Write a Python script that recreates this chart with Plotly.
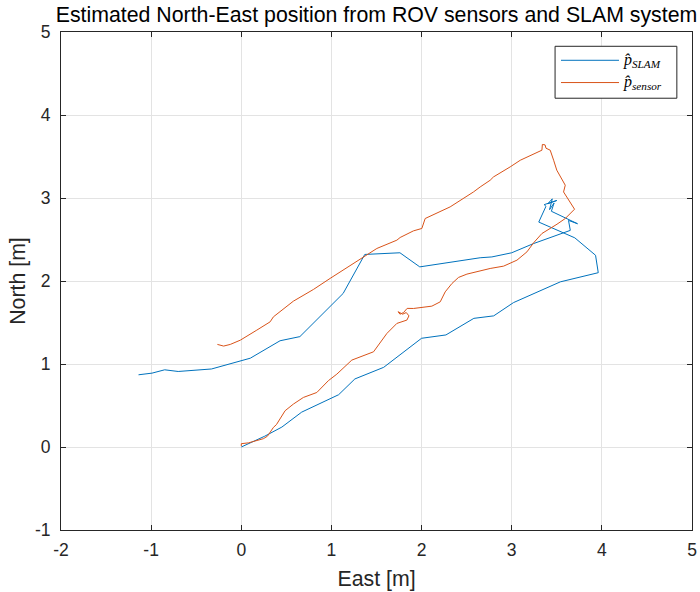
import plotly.graph_objects as go

# SLAM estimate (East, North) in metres
slam_east = [0.00, 0.26, 0.45, 0.67, 1.08, 1.26, 1.58, 2.00, 2.27, 2.43, 2.58, 2.80, 3.02, 3.54, 3.96,
             3.93, 3.70, 3.30, 3.38, 3.36, 3.50, 3.40, 3.45, 3.42, 3.47, 3.44, 3.73, 3.63, 3.65,
             3.24, 3.00, 2.78, 2.65, 1.98, 1.76, 1.37, 1.13, 0.65, 0.43, 0.10, -0.33, -0.70,
             -0.85, -0.99, -1.14]
slam_north = [0.00, 0.13, 0.24, 0.42, 0.63, 0.82, 0.96, 1.31, 1.35, 1.45, 1.55, 1.58, 1.74, 1.99, 2.10,
              2.31, 2.52, 2.71, 2.90, 2.92, 2.97, 2.93, 2.99, 2.86, 2.94, 2.84, 2.69, 2.73, 2.61,
              2.45, 2.34, 2.29, 2.28, 2.17, 2.34, 2.32, 1.85, 1.33, 1.28, 1.07, 0.94, 0.91,
              0.93, 0.89, 0.87]

# Sensor estimate (East, North) in metres
sensor_east = [0.00, 0.00, 0.08, 0.18, 0.245, 0.29, 0.32, 0.357, 0.39, 0.431, 0.486, 0.578, 0.689,
               0.838, 0.967, 1.06, 1.226, 1.467, 1.615, 1.726, 1.837, 1.86, 1.83, 1.79, 1.74, 1.76,
               1.80, 1.84, 1.91, 2.114, 2.207, 2.262, 2.337, 2.41, 2.503, 2.761, 2.91, 3.058, 3.169,
               3.242, 3.335, 3.502, 3.594, 3.697, 3.63, 3.575, 3.594, 3.538, 3.50, 3.465, 3.427,
               3.38, 3.37, 3.34, 3.34, 3.335, 3.095, 2.983, 2.798, 2.761, 2.65, 2.576, 2.317, 2.04,
               2.003, 1.91, 1.762, 1.726, 1.504, 1.355, 1.133, 0.985, 0.80, 0.578, 0.356, 0.32,
               0.172, -0.011, -0.122, -0.196, -0.265]
sensor_north = [0.01, 0.04, 0.05, 0.08, 0.10, 0.13, 0.18, 0.237, 0.27, 0.337, 0.437, 0.517, 0.597,
                0.657, 0.80, 0.878, 1.047, 1.147, 1.368, 1.489, 1.529, 1.58, 1.62, 1.60, 1.63, 1.60,
                1.62, 1.67, 1.669, 1.697, 1.749, 1.869, 1.97, 2.043, 2.083, 2.151, 2.179, 2.251, 2.351,
                2.459, 2.572, 2.684, 2.753, 2.865, 2.973, 3.073, 3.154, 3.254, 3.335, 3.455, 3.576,
                3.60, 3.64, 3.645, 3.61, 3.576, 3.455, 3.375, 3.254, 3.214, 3.133, 3.073, 2.893, 2.753,
                2.633, 2.604, 2.524, 2.492, 2.392, 2.291, 2.131, 2.031, 1.898, 1.757, 1.568, 1.508,
                1.408, 1.287, 1.236, 1.216, 1.236]

x_ticks = [-2, -1, 0, 1, 2, 3, 4, 5]
y_ticks = [-1, 0, 1, 2, 3, 4, 5]

series_names = ["<i>p̂</i><sub><i>SLAM</i></sub>", "<i>p̂</i><sub><i>sensor</i></sub>"]
series_colors = ["#0072BD", "#D95319"]

SANS = "Liberation Sans, Arial, Helvetica"
SERIF = "Liberation Serif, DejaVu Serif, serif"

fig = go.Figure()
fig.add_trace(go.Scatter(x=slam_east, y=slam_north, mode="lines",
                         line=dict(color=series_colors[0], width=1),
                         name=series_names[0], showlegend=False))
fig.add_trace(go.Scatter(x=sensor_east, y=sensor_north, mode="lines",
                         line=dict(color=series_colors[1], width=1),
                         name=series_names[1], showlegend=False))

# Legend box drawn in paper coordinates (MATLAB-style long line samples)
fig.add_shape(type="rect", xref="paper", yref="paper",
              x0=0.783, x1=0.976, y0=0.867, y1=0.9713,
              line=dict(color="#262626", width=1), fillcolor="white", layer="above")
legend_rows_y = [0.9432, 0.8985]
for name, color, yy in zip(series_names, series_colors, legend_rows_y):
    fig.add_shape(type="line", xref="paper", yref="paper",
                  x0=0.7924, x1=0.8843, y0=yy, y1=yy,
                  line=dict(color=color, width=1), layer="above")
    fig.add_annotation(xref="paper", yref="paper", x=0.8875, y=yy,
                       xanchor="left", yanchor="middle", showarrow=False,
                       text=name, font=dict(family=SERIF, size=16, color="#000000"))

axis_common = dict(showline=True, mirror="ticks", linecolor="#262626", linewidth=1,
                   ticks="inside", ticklen=5, tickcolor="#262626",
                   showgrid=True, gridcolor="#e3e3e3", gridwidth=1, zeroline=False,
                   automargin=False,
                   tickfont=dict(family=SANS, size=17.5, color="#262626"))

fig.update_layout(
    width=700, height=592,
    margin=dict(l=61, r=8, t=32, b=62, autoexpand=False),
    plot_bgcolor="white", paper_bgcolor="white",
    title=dict(text="Estimated North-East position from ROV sensors and SLAM system",
               x=0.5, xanchor="center", xref="paper",
               y=1 - 15 / 592, yanchor="middle", yref="container",
               automargin=False,
               font=dict(family=SANS, size=21.3, color="#000000")),
    xaxis=dict(range=[-2, 5], tickvals=x_ticks, ticktext=[str(v) for v in x_ticks],
               ticklabelstandoff=4,
               title=dict(text="East [m]", standoff=12,
                          font=dict(family=SANS, size=21.3, color="#262626")),
               **axis_common),
    yaxis=dict(range=[-1, 5], tickvals=y_ticks, ticktext=[str(v) for v in y_ticks],
               ticklabelstandoff=6,
               title=dict(text="North [m]", standoff=3,
                          font=dict(family=SANS, size=21.3, color="#262626")),
               **axis_common),
    showlegend=False,
)

fig.write_html("out.html", config={"displayModeBar": False},
               post_script="document.body.style.margin='0';")
